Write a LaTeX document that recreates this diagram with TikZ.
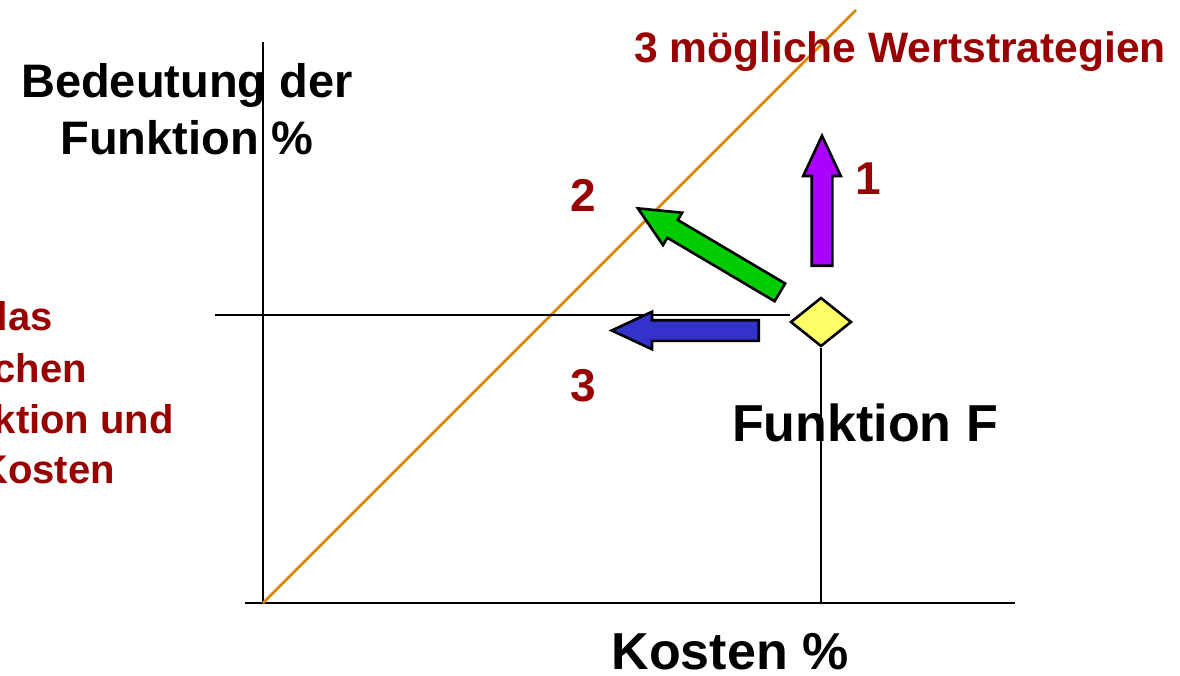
\documentclass[tikz,border=0pt]{standalone}
\usepackage{fontspec}
\setmainfont{Liberation Sans}
\usetikzlibrary{shapes.geometric,shapes.arrows}
\definecolor{wertred}{RGB}{153,0,0}
\definecolor{diagorange}{RGB}{217,133,10}
\definecolor{arrowpurple}{RGB}{170,0,255}
\definecolor{arrowgreen}{RGB}{0,204,0}
\definecolor{arrowblue}{RGB}{51,51,204}
\definecolor{diayellow}{RGB}{255,255,102}

\begin{document}
\begin{tikzpicture}[x=1pt,y=-1pt,
  axis/.style={draw=black,line width=2.6pt},
  guide/.style={draw=black,line width=1.5pt},
  diag/.style={draw=diagorange,line width=2.6pt},
  blockarrow/.style={single arrow,draw=black,line width=2.6pt,inner xsep=0pt,
    inner ysep=9pt,minimum width=35pt,single arrow head extend=8.5pt,
    single arrow tip angle=50,anchor=tail},
  big/.style={inner sep=0pt,font=\bfseries\fontsize{52}{60}\selectfont},
  ylabel/.style={inner sep=0pt,align=center,font=\bfseries\fontsize{47}{57}\selectfont},
  redlabel/.style={inner sep=0pt,text=wertred,font=\bfseries\fontsize{46}{54}\selectfont},
  sidetext/.style={inner sep=0pt,anchor=base east,text=wertred,
    font=\bfseries\fontsize{40}{50}\selectfont}]
\useasboundingbox (0,0) rectangle (1180,675);

% Axes and the value line through the origin.
\coordinate (O) at (263,603);
\draw[axis] (263,42) -- (O);
\draw[axis] (245,603) -- (1015,603);
\draw[diag] (O) -- (856,10);
\draw[guide] (215,315) -- (790,315);

% The function as a point, dropped onto the cost axis.
\node[diamond,draw=black,fill=diayellow,line width=2.6pt,inner sep=0pt,
  minimum width=61pt,minimum height=49pt] (F) at (821,322) {};
\draw[guide] (F.south) -- (F.south |- O);

% Three strategies leaving the point (placed by their tails).
\node[blockarrow,fill=arrowpurple,minimum height=130pt,rotate=90] (up) at (822,267) {};
\node[blockarrow,fill=arrowgreen,minimum height=165pt,rotate=149.4] (diag2) at (781,293) {};
\node[blockarrow,fill=arrowblue,minimum height=147pt,rotate=180] (left) at (760,330.5) {};
\node[redlabel] (n1) at (868,179) {1};
\node[redlabel] (n2) at (583.5,195) {2};
\node[redlabel] (n3) at (583.5,385.5) {3};

% Titles and axis labels.
\node[redlabel,anchor=base,font=\bfseries\fontsize{42.6}{50}\selectfont]
  (title) at (900,62) {3 mögliche Wertstrategien};
\node[ylabel,anchor=north] (ytitle) at (187,63) {Bedeutung der\\Funktion \%};
\node[big,anchor=base] (xtitle) at (730,669) {Kosten \%};
\node[big,anchor=base] (ftitle) at (865,441) {Funktion F};

% Text running in from the left edge.
\node[sidetext] (t1) at (53,330) {das};
\node[sidetext] (t2) at (87,382) {chen};
\node[sidetext] (t3) at (174,433) {ktion und};
\node[sidetext] (t4) at (115,483) {Kosten};
\end{tikzpicture}
\end{document}
